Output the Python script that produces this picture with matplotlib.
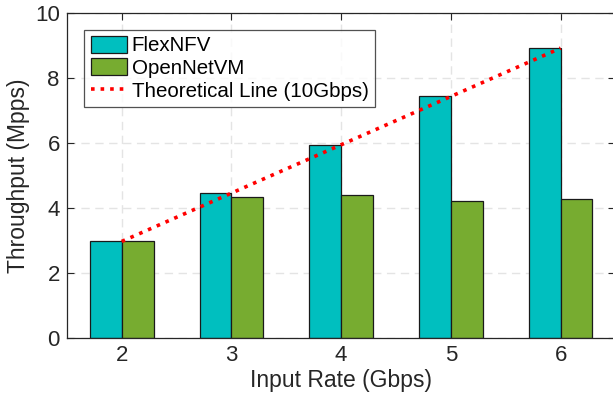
import matplotlib
matplotlib.use("Agg")
import matplotlib.pyplot as plt
import numpy as np

TEAL, GREEN = "#00bfbf", "#77ac30"

rates = [2, 3, 4, 5, 6]
flexnfv = [2.98, 4.47, 5.96, 7.45, 8.92]
opennetvm = [2.98, 4.35, 4.41, 4.23, 4.28]
theoretical = [2.976, 4.464, 5.952, 7.44, 8.928]
yticks = [0, 2, 4, 6, 8, 10]

plt.rcParams["font.family"] = ["Liberation Sans", "DejaVu Sans"]

fig = plt.figure(figsize=(6.13, 4.03), dpi=100)
ax = fig.add_axes([0.109, 0.161, 0.895, 0.806])

x = np.array(rates, dtype=float)
w = 0.29
b1 = ax.bar(x - w / 2, flexnfv, w, color=TEAL, edgecolor="#1a1a1a", lw=0.9,
            label="FlexNFV", zorder=2)
b2 = ax.bar(x + w / 2, opennetvm, w, color=GREEN, edgecolor="#1a1a1a", lw=0.9,
            label="OpenNetVM", zorder=2)
ln, = ax.plot(x, theoretical, ":", color="red", lw=2.6,
              label="Theoretical Line (10Gbps)", zorder=3)

ax.set_xlim(1.5, 6.5)
ax.set_ylim(0, 10)
ax.set_xticks(rates)
ax.set_yticks(yticks)
ax.tick_params(direction="in", labelsize=16, length=5, width=0.8,
               top=True, right=True, colors="#262626", pad=5)
ax.grid(True, ls=(0, (6, 4)), color="#e4e4e4", lw=1.0, zorder=0)
ax.set_axisbelow(True)
for s in ax.spines.values():
    s.set_color("#262626")
    s.set_linewidth(0.9)

ax.set_xlabel("Input Rate (Gbps)", fontsize=16.5, color="#262626", labelpad=2)
ax.set_ylabel("Throughput (Mpps)", fontsize=16.5, color="#262626")
ax.yaxis.set_label_coords(-0.068, 0.5)

leg = ax.legend([b1, b2, ln], [b1.get_label(), b2.get_label(), ln.get_label()],
                loc="upper left", bbox_to_anchor=(0.032, 0.95),
                fontsize=14.8, frameon=True, fancybox=False,
                edgecolor="#262626", borderpad=0.3, labelspacing=0.15,
                handlelength=1.75, handleheight=0.9, handletextpad=0.25,
                borderaxespad=0)
leg.get_frame().set_linewidth(0.9)

fig.savefig("out.png", dpi=100)
